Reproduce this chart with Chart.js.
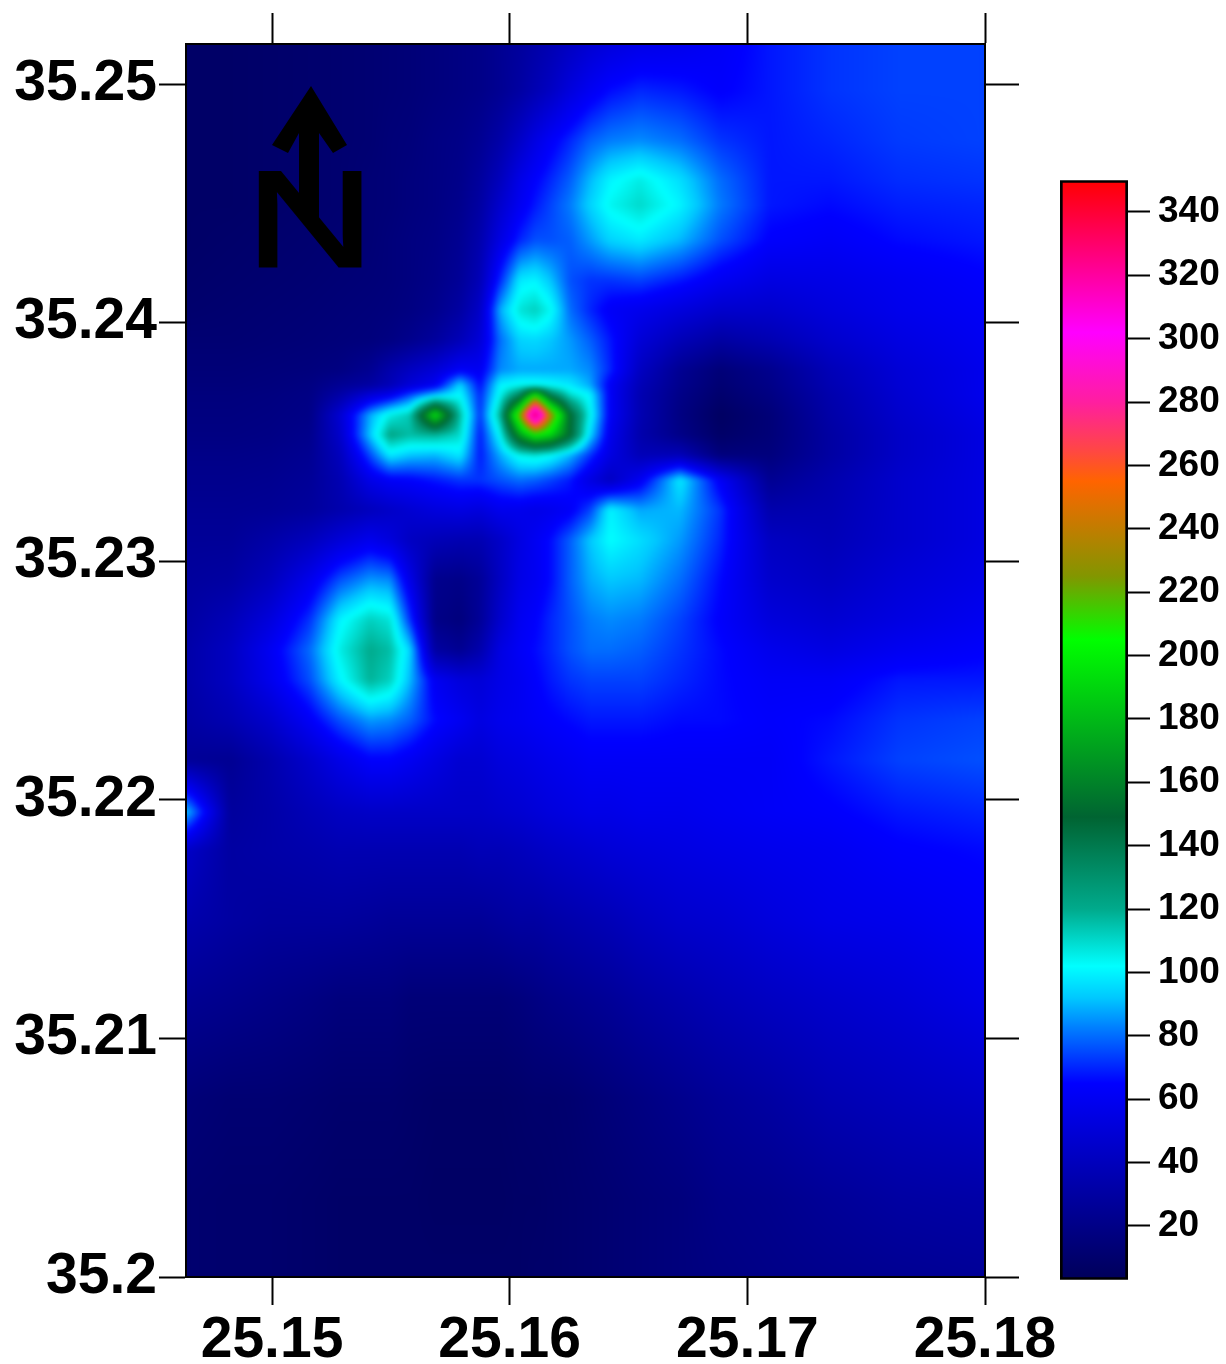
<!DOCTYPE html>
<html>
<head>
<meta charset="utf-8">
<title>Gridded values map</title>
<script src="https://cdn.jsdelivr.net/npm/chart.js@4"></script>
<style>
  html, body { margin: 0; background: #fff; }
  #wrap { position: relative; width: 1226px; height: 1364px; overflow: hidden; }
  canvas { position: absolute; }
</style>
</head>
<body>
<div id="wrap">
  <canvas id="map" width="1226" height="1364" style="left:0;top:0"></canvas>
  <canvas id="bar" width="226" height="1160" style="left:1000px;top:150px"></canvas>
</div>
<script>
const xTicks = [25.15, 25.16, 25.17, 25.18];
const xTickLabels = ["25.15", "25.16", "25.17", "25.18"];
const yTicks = [35.2, 35.21, 35.22, 35.23, 35.24, 35.25];
const yTickLabels = ["35.2", "35.21", "35.22", "35.23", "35.24", "35.25"];
const barTicks = [20, 40, 60, 80, 100, 120, 140, 160, 180, 200, 220, 240, 260, 280, 300, 320, 340];

// sample positions, finer around the hot spots
const gridLon = [25.14638, 25.14823, 25.14992, 25.1516, 25.15286, 25.15412, 25.15496, 25.15581, 25.15686,
  25.15791, 25.15875, 25.15959, 25.16043, 25.16107, 25.1617, 25.16254, 25.16338, 25.16422, 25.16548,
  25.16717, 25.16885, 25.17095, 25.17348, 25.17642, 25.18];
const gridLat = [35.25168, 35.24975, 35.24765, 35.24598, 35.24493, 35.24346, 35.24178, 35.24053, 35.23927,
  35.23801, 35.23738, 35.23697, 35.23613, 35.23529, 35.23445, 35.2334, 35.23215, 35.23089, 35.22921, 35.22754,
  35.22628, 35.22502, 35.22334, 35.22167, 35.21949, 35.2179, 35.21496, 35.21161, 35.20742, 35.20323, 35.2];
// one row per gridLat, one value per gridLon
const gridValues = [
  [8,8,9,10,11,12,13,14,16,18,20,24,28,32,36,42,48,52,56,58,62,68,72,74,74],
  [8,8,9,10,11,12,13,14,16,18,20,24,30,36,42,52,60,66,70,68,64,68,72,74,74],
  [8,8,9,10,11,12,14,15,18,20,24,32,44,54,62,70,78,82,84,80,72,68,70,73,74],
  [8,8,9,10,11,13,14,16,18,21,28,40,56,64,70,78,90,100,106,96,80,68,68,71,72],
  [8,8,9,10,11,13,14,16,18,22,30,46,60,68,74,82,94,104,110,100,82,68,66,69,70],
  [8,9,10,11,12,13,15,17,19,24,34,54,70,76,76,78,86,94,98,90,76,64,62,66,68],
  [9,10,11,12,13,14,15,17,20,26,38,70,98,100,92,76,72,72,74,68,60,54,56,60,64],
  [10,11,12,13,14,15,16,18,22,30,44,88,108,112,104,80,70,62,58,52,46,46,52,58,62],
  [12,12,13,14,15,16,18,22,28,38,50,80,94,95,92,86,78,68,50,38,30,36,46,54,60],
  [14,14,15,16,18,24,34,42,50,62,60,84,88,88,88,88,84,70,42,24,14,22,38,50,58],
  [15,15,16,18,25,30,38,50,60,95,66,100,104,104,102,98,88,62,38,22,12,20,36,49,58],
  [16,16,17,19,32,50,58,75,92,102,70,104,135,200,140,110,100,62,36,20,10,18,34,48,58],
  [17,17,18,20,48,88,106,114,195,116,72,118,225,345,240,150,104,62,36,18,6,14,32,46,56],
  [18,18,19,22,45,92,122,116,118,110,68,102,170,200,190,150,95,58,34,20,8,14,30,44,54],
  [20,20,21,24,40,75,98,92,90,98,68,88,105,108,103,90,72,54,38,38,16,16,30,44,54],
  [22,22,23,26,36,56,62,64,68,72,72,76,80,78,74,68,54,42,60,98,62,24,34,46,54],
  [24,24,25,28,34,40,44,48,52,54,52,58,58,56,58,62,74,100,88,90,72,34,36,46,54],
  [26,26,32,40,50,58,52,42,38,36,36,44,54,60,66,78,92,102,96,86,70,42,38,46,54],
  [28,30,40,58,76,86,84,56,22,20,26,42,56,60,66,78,88,92,90,80,66,46,42,50,56],
  [30,38,52,72,100,112,108,72,20,16,26,46,60,64,70,76,82,84,82,74,64,52,48,54,60],
  [32,42,60,80,106,120,116,94,30,24,34,54,62,66,70,76,80,80,78,72,66,58,54,60,64],
  [32,42,58,76,100,118,112,90,60,52,50,56,60,64,68,72,74,74,74,70,66,62,62,68,68],
  [30,36,46,62,76,86,84,78,66,60,54,58,60,62,64,66,68,68,68,66,66,64,66,72,74],
  [26,24,34,46,56,64,64,60,54,48,48,52,54,56,58,60,62,62,62,62,62,62,68,74,76],
  [92,28,32,38,42,44,44,44,44,44,44,46,48,50,52,54,56,56,58,58,60,62,64,68,70],
  [44,30,32,34,36,36,36,36,36,36,38,38,40,42,44,46,48,50,52,54,56,58,60,64,66],
  [34,30,28,28,28,27,26,26,26,26,26,28,30,30,32,34,36,38,42,46,48,52,56,58,62],
  [24,22,20,18,16,16,16,14,14,14,14,14,16,18,20,22,24,26,30,34,38,42,46,50,56],
  [14,12,12,11,10,10,10,9,8,8,8,8,9,10,10,11,13,15,18,22,26,30,36,40,44],
  [11,10,10,9,8,8,8,8,7,7,7,7,8,8,9,10,11,12,14,16,20,22,26,30,32],
  [11,10,10,9,8,8,8,8,8,8,8,8,8,9,9,10,11,12,14,16,18,20,22,24,26],
];

// colour ramp
const rampValues = [3, 65, 83, 92, 102, 120, 149, 205, 225, 255, 265, 280, 302, 350];
const rampColors = [[0,0,90], [0,0,255], [0,130,255], [0,200,255], [0,255,255], [0,170,140], [0,100,50],
  [0,255,0], [130,150,0], [255,100,0], [255,70,70], [255,30,160], [255,0,255], [255,0,0]];
const VMIN = 3, VMAX = 350;

const INK = "#000";
const tickFont = { family: '"Liberation Sans", Arial, sans-serif', size: 57, weight: "bold" };

function rampColor(v) {
  let i = 0;
  while (i < rampValues.length - 2 && v > rampValues[i + 1]) i++;
  const t = Math.max(0, Math.min(1, (v - rampValues[i]) / (rampValues[i + 1] - rampValues[i])));
  const a = rampColors[i], b = rampColors[i + 1];
  return [a[0] + (b[0] - a[0]) * t, a[1] + (b[1] - a[1]) * t, a[2] + (b[2] - a[2]) * t];
}

// index of the grid interval holding v, plus the fraction inside it
function locate(list, v) {
  const desc = list[0] > list[1];
  let i = 0;
  while (i < list.length - 2 && (desc ? v < list[i + 1] : v > list[i + 1])) i++;
  const t = (v - list[i]) / (list[i + 1] - list[i]);
  return [i, Math.max(0, Math.min(1, t))];
}

const fieldLayer = {
  id: "fieldLayer",
  beforeDraw(chart) {
    const { ctx, chartArea: a, scales } = chart;
    const w = Math.round(a.right - a.left), h = Math.round(a.bottom - a.top);
    const off = document.createElement("canvas");
    off.width = w; off.height = h;
    const octx = off.getContext("2d");
    const img = octx.createImageData(w, h);
    const cols = [];
    for (let px = 0; px < w; px++) cols.push(locate(gridLon, scales.x.getValueForPixel(a.left + px + 0.5)));
    let k = 0;
    for (let py = 0; py < h; py++) {
      const [r, tr] = locate(gridLat, scales.y.getValueForPixel(a.top + py + 0.5));
      const r0 = gridValues[r], r1 = gridValues[r + 1];
      for (let px = 0; px < w; px++) {
        const [c, tc] = cols[px];
        const top = r0[c] + (r0[c + 1] - r0[c]) * tc;
        const bot = r1[c] + (r1[c + 1] - r1[c]) * tc;
        const rgb = rampColor(top + (bot - top) * tr);
        img.data[k++] = rgb[0]; img.data[k++] = rgb[1]; img.data[k++] = rgb[2]; img.data[k++] = 255;
      }
    }
    octx.putImageData(img, 0, 0);
    // the reference is soft, blur a little; sharp copy underneath fills the edges
    ctx.save();
    ctx.beginPath(); ctx.rect(a.left, a.top, w, h); ctx.clip();
    ctx.drawImage(off, a.left, a.top);
    ctx.filter = "blur(2.5px)";
    ctx.drawImage(off, a.left, a.top);
    ctx.restore();
  },
};

// north arrow sits on top of the field
const northArrow = {
  id: "northArrow",
  afterDatasetsDraw(chart) {
    const c = chart.ctx;
    c.save();
    c.fillStyle = INK; c.strokeStyle = INK;
    c.beginPath();
    c.moveTo(311, 86); c.lineTo(347, 145); c.lineTo(333, 153); c.lineTo(319, 133);
    c.lineTo(319, 222); c.lineTo(299, 200); c.lineTo(299, 133);
    c.lineTo(288, 153); c.lineTo(272, 145);
    c.closePath(); c.fill();
    // the letter is wider than the font's, so stretch it
    c.translate(310, 265.5);
    c.scale(1.3, 1);
    c.font = '136px "Liberation Sans", Arial, sans-serif';
    c.textAlign = "center"; c.textBaseline = "alphabetic";
    c.lineWidth = 3;
    c.fillText("N", 0, 0);
    c.strokeText("N", 0, 0);
    c.restore();
  },
};

const side = (tickLength) => ({
  drawOnChartArea: false, tickColor: INK, tickWidth: 2, tickLength,
});
const frame = { color: INK, width: 2 };
const fixTicks = (list) => (scale) => { scale.ticks = list.map((value) => ({ value })); };
const LON = [25.14638, 25.18], LAT = [35.2, 35.25168];

const cells = [];
gridLat.forEach((lat, r) => gridLon.forEach((lon, c) => cells.push({ x: lon, y: lat, v: gridValues[r][c] })));

new Chart(document.getElementById("map"), {
  type: "scatter",
  data: { datasets: [{ label: "value", data: cells, pointRadius: 0 }] },
  plugins: [fieldLayer, northArrow],
  options: {
    responsive: false, animation: false, events: [],
    layout: { padding: 0 },
    plugins: { legend: { display: false }, tooltip: { enabled: false } },
    scales: {
      x: {
        type: "linear", position: "bottom", min: LON[0], max: LON[1],
        afterBuildTicks: fixTicks(xTicks), afterFit: (s) => { s.height = 87; },
        grid: side(28), border: frame,
        ticks: { color: INK, font: tickFont, padding: 2, maxRotation: 0, autoSkip: false,
          callback: (v, i) => xTickLabels[i] },
      },
      xTop: {
        type: "linear", position: "top", min: LON[0], max: LON[1],
        afterBuildTicks: fixTicks(xTicks), afterFit: (s) => { s.height = 44; },
        grid: side(31), border: frame, ticks: { display: false },
      },
      y: {
        type: "linear", position: "left", min: LAT[0], max: LAT[1],
        afterBuildTicks: fixTicks(yTicks), afterFit: (s) => { s.width = 186; },
        grid: side(27), border: frame,
        ticks: { color: INK, font: tickFont, padding: 2, autoSkip: false,
          callback: (v, i) => yTickLabels[i] },
      },
      yRight: {
        type: "linear", position: "right", min: LAT[0], max: LAT[1],
        afterBuildTicks: fixTicks(yTicks), afterFit: (s) => { s.width = 241; },
        grid: side(34), border: frame, ticks: { display: false },
      },
    },
  },
});

function rampGradient(ctx) {
  const { chart } = ctx;
  if (!chart.chartArea) return "#000";
  const y = chart.scales.y;
  const g = chart.ctx.createLinearGradient(0, y.getPixelForValue(VMIN), 0, y.getPixelForValue(VMAX));
  rampValues.forEach((v, i) => g.addColorStop((v - VMIN) / (VMAX - VMIN), `rgb(${rampColors[i].join(",")})`));
  return g;
}

new Chart(document.getElementById("bar"), {
  type: "bar",
  data: {
    labels: ["value"],
    datasets: [{ data: [[VMIN, VMAX]], backgroundColor: rampGradient, borderColor: INK, borderWidth: 3,
      borderSkipped: false, barPercentage: 1, categoryPercentage: 1 }],
  },
  options: {
    responsive: false, animation: false, events: [],
    layout: { padding: { left: 60, top: 30, bottom: 30, right: 0 } },
    plugins: { legend: { display: false }, tooltip: { enabled: false } },
    scales: {
      x: { display: false },
      y: {
        position: "right", min: VMIN, max: VMAX,
        afterBuildTicks: fixTicks(barTicks), afterFit: (s) => { s.width = 98; },
        grid: side(22), border: { display: false },
        ticks: { color: INK, padding: 8, autoSkip: false,
          font: { family: tickFont.family, size: 37, weight: "bold" }, callback: (v) => v },
      },
    },
  },
});
</script>
</body>
</html>
